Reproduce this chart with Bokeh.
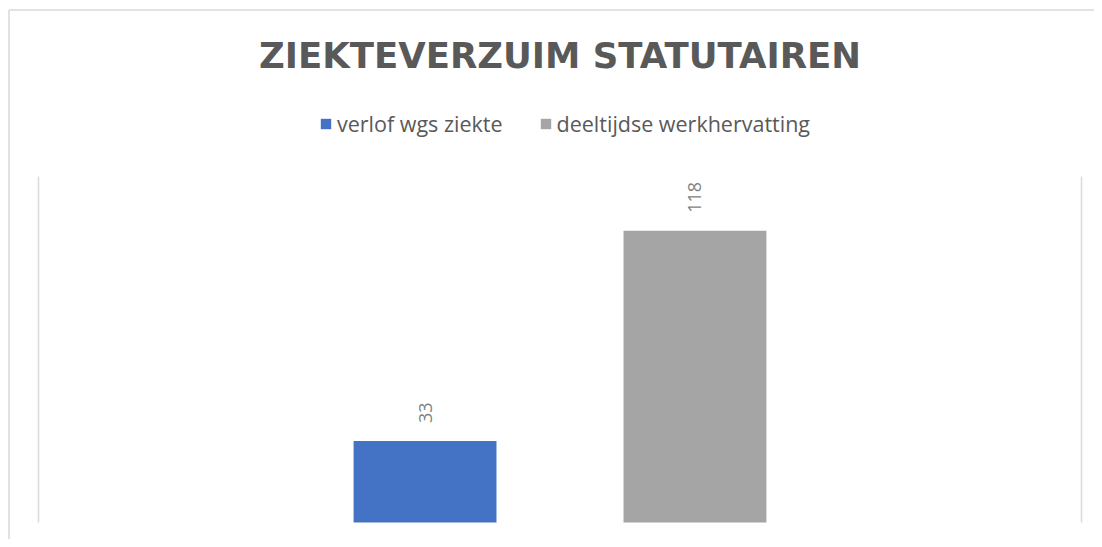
import math
from bokeh.plotting import figure
from bokeh.models import Range1d, Label, Legend, LegendItem
from bokeh.core.properties import value
from bokeh.embed import file_html
from bokeh.resources import INLINE

# ---- data ----
title = "ZIEKTEVERZUIM STATUTAIREN"
series = ["verlof wgs ziekte", "deeltijdse werkhervatting"]
values = [33, 118]
colors = ["#4472C4", "#A5A5A5"]
axis_max = 140

# ---- layout (pixels, relative to the figure) ----
W, H = 1094, 539
PA_LEFT, PA_RIGHT = 38, 1081
PA_TOP, PA_BOTTOM = 176, 522

px_x = PA_RIGHT - PA_LEFT
px_y = (PA_BOTTOM - PA_TOP) / axis_max
x_range = Range1d(-PA_LEFT / px_x, 1 + (W - PA_RIGHT) / px_x)
y_range = Range1d(-(H - PA_BOTTOM) / px_y, axis_max + PA_TOP / px_y)


def dx(px):
    return x_range.start + px / px_x


def dy(py):
    return y_range.end - py / px_y


p = figure(width=W, height=H, x_range=x_range, y_range=y_range,
           output_backend="svg", toolbar_location=None,
           x_axis_location=None, y_axis_location=None,
           min_border=0, min_border_left=0, min_border_right=0,
           min_border_top=0, min_border_bottom=0)
p.outline_line_color = None
p.grid.visible = False
p.background_fill_color = "white"
p.border_fill_color = "white"

# outer chart border (top / left visible)
bx, by = dx(8.5), dy(9.5)
p.segment(x0=[bx, bx], y0=[by, by], x1=[x_range.end, bx], y1=[by, y_range.start],
          line_color="#d9d9d9", line_width=1.5)

# category boundary lines
p.segment(x0=[0, 1], y0=[0, 0], x1=[0, 1], y1=[axis_max, axis_max],
          line_color="#d9d9d9", line_width=1.5)

n = len(series)
step = 0.2588
bar_w = 0.137
xs = [0.5 + (i - (n - 1) / 2) * step for i in range(n)]

items = []
for i in range(n):
    r = p.vbar(x=[xs[i]], top=[values[i]], bottom=0, width=bar_w,
               fill_color=colors[i], line_color=None)
    items.append(LegendItem(label=series[i], renderers=[r]))

p.text(x=xs, y=values, text=[str(v) for v in values], angle=math.pi / 2,
       text_align="left", text_baseline="middle", y_offset=-18,
       text_font=value("Open Sans"), text_font_size="18px",
       text_color="#7f7f7f")

p.add_layout(Label(x=0.5, y=dy(55), text=title,
                   text_align="center", text_baseline="middle",
                   text_font="DejaVu Sans", text_font_style="bold",
                   text_font_size="35.5px", text_color="#595959"))

legend = Legend(items=items, orientation="horizontal", location=(319, 401.5),
                border_line_color=None, background_fill_alpha=0,
                padding=0, margin=0, spacing=36, glyph_width=13,
                glyph_height=13, label_standoff=5,
                label_text_font="Open Sans", label_text_font_size="21.5px",
                label_text_color="#595959")
p.add_layout(legend, "center")

open("out.html", "w").write(file_html(p, INLINE))
